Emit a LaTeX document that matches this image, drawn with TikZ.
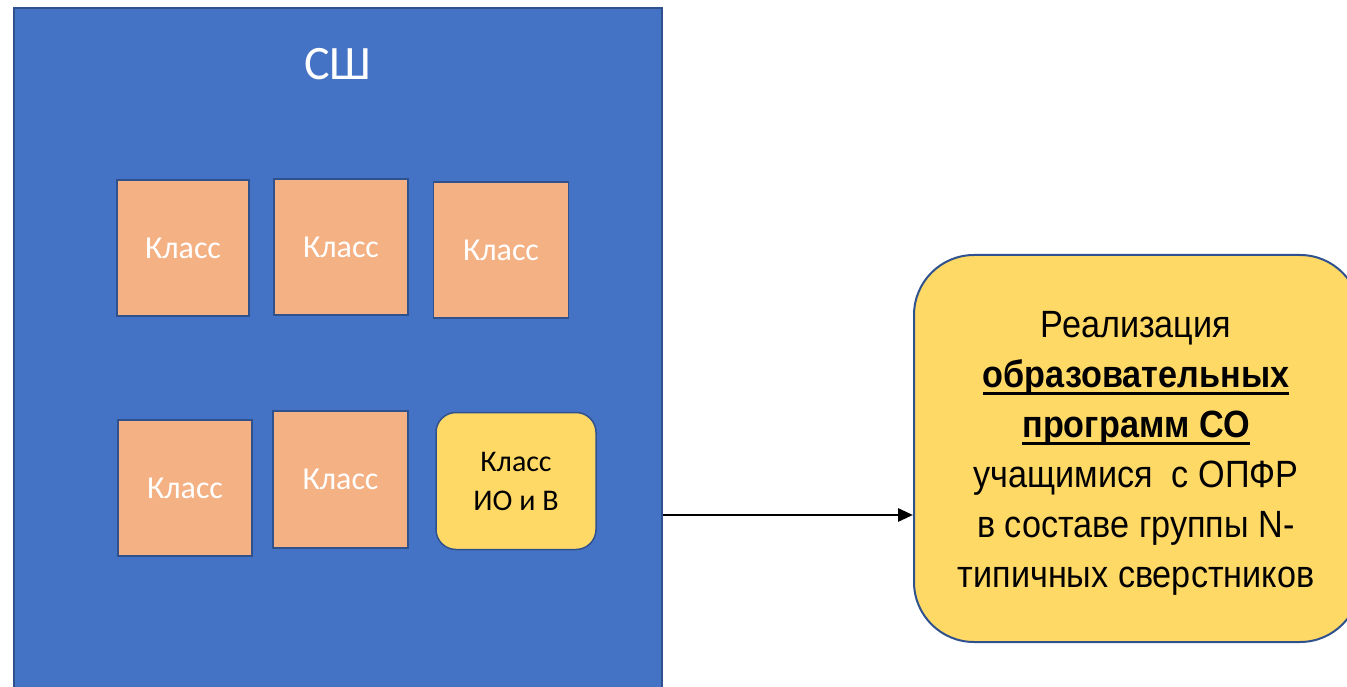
\documentclass[tikz,border=0pt]{standalone}
\usepackage{fontspec}
\setmainfont{Carlito}
\newfontfamily\arialfont[FakeStretch=0.9]{Liberation Sans}
\usetikzlibrary{arrows.meta}
\definecolor{sblue}{HTML}{4472C4}
\definecolor{sborder}{HTML}{2F528F}
\definecolor{sorange}{HTML}{F4B183}
\definecolor{syellow}{HTML}{FFD966}
\newcommand\myul[1]{\setbox0\hbox{#1}\rlap{\rule[-7pt]{\wd0}{2.2pt}}\box0}
\tikzset{
  school/.style={draw=sborder, line width=1.5pt, fill=sblue, minimum width=648pt, minimum height=700pt, inner sep=0pt},
  classbox/.style={draw=sborder, line width=1.5pt, fill=sorange, text=white, inner sep=0pt,
    font=\fontsize{32}{38}\selectfont},
  iobox/.style={draw=sborder, line width=1.5pt, fill=syellow, text=black, rounded corners=20pt, inner sep=0pt,
    minimum width=160pt, minimum height=137pt, align=center, font=\fontsize{30}{39}\selectfont},
  bigbox/.style={draw=sborder, line width=2pt, fill=syellow, rounded corners=60pt, inner sep=0pt,
    minimum width=446pt, minimum height=387pt},
  bigtext/.style={text=black, inner sep=0pt, align=center, font=\arialfont\fontsize{38}{50}\selectfont},
  link/.style={line width=2.8pt, -{Triangle[length=15pt,width=13pt]}}
}
\begin{document}
\begin{tikzpicture}[x=1pt,y=-1pt]
\useasboundingbox (0,0) rectangle (1347,687);
\clip (0,0) rectangle (1347,687);
\node[school] (sh) at (338,358) {};
\node[text=white, font=\fontsize{48}{55}\selectfont] (shl) at (338,64) {СШ};
\node[classbox, minimum width=132pt, minimum height=136pt] (c1) at (183,248) {Класс};
\node[classbox, minimum width=134pt, minimum height=136pt] (c2) at (341,247) {Класс};
\node[classbox, minimum width=135pt, minimum height=136pt] (c3) at (501,250) {Класс};
\node[classbox, minimum width=134pt, minimum height=136pt] (c4) at (185,488) {Класс};
\node[classbox, minimum width=135pt, minimum height=137pt] (c5) at (340.5,479.5) {Класс};
\node[iobox] (io) at (516,481) {Класс\\ИО и В};
\node[bigbox] (big) at (1137,448.5) {};
\node[bigtext] (bt) at ([xshift=-1pt,yshift=-5pt]big.center) {Реализация\\
\textbf{\myul{образовательных}}\\
\textbf{\myul{программ СО}}\\
учащимися\ \ с ОПФР\\
в составе группы N-\\
типичных сверстников};
\coordinate (lvl) at (0,515);
\draw[link] (sh.east |- lvl) -- (big.west |- lvl);
\end{tikzpicture}
\end{document}
